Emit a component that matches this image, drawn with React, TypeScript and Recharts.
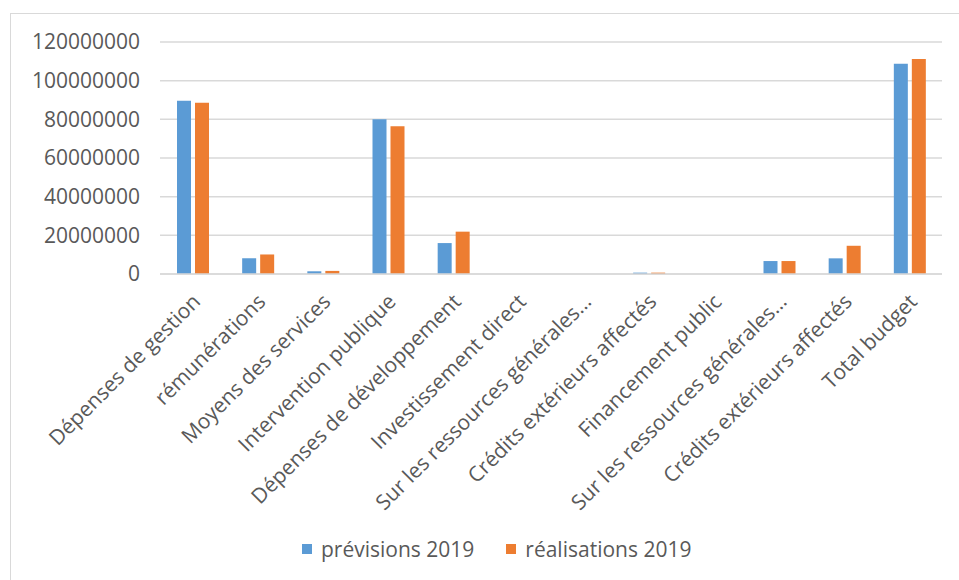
import React from 'react'
import { Bar, BarChart, CartesianGrid, Legend, XAxis, YAxis } from 'recharts'

const categories = [
  'Dépenses de gestion',
  'rémunérations',
  'Moyens des services',
  'Intervention publique',
  'Dépenses de développement',
  'Investissement direct',
  'Sur les ressources générales…',
  'Crédits extérieurs affectés',
  'Financement public',
  'Sur les ressources générales…',
  'Crédits extérieurs affectés',
  'Total budget',
]
const previsions = [
  89600000, 8100000, 1400000, 80000000, 16000000, 0, 0, 700000, 0, 6700000, 8100000, 108800000,
]
const realisations = [
  88600000, 10100000, 1600000, 76400000, 21900000, 0, 0, 700000, 0, 6700000, 14600000, 111200000,
]
const yTicks = [0, 20000000, 40000000, 60000000, 80000000, 100000000, 120000000]

const series = [
  { key: 'prev', name: 'prévisions 2019', color: '#5B9BD5' },
  { key: 'real', name: 'réalisations 2019', color: '#ED7D31' },
]

const data = categories.map((c, i) => ({ idx: i, label: c, prev: previsions[i], real: realisations[i] }))

const FONT = '"Open Sans", "Noto Sans", sans-serif'
const TEXT = '#595959'

function CategoryTick({ x, y, payload }: any) {
  const label = categories[payload.value]
  const tx = x + 9
  const ty = y + 21
  return (
    <text
      x={tx}
      y={ty}
      transform={`rotate(-45, ${tx}, ${ty})`}
      textAnchor="end"
      fill={TEXT}
      fontSize={21}
      fontFamily={FONT}
    >
      {label}
    </text>
  )
}

function LegendBox() {
  return (
    <div style={{ display: 'flex', gap: 32, fontFamily: FONT, fontSize: 21, color: TEXT }}>
      {series.map((s) => (
        <div key={s.key} style={{ display: 'flex', alignItems: 'center', gap: 9 }}>
          <span style={{ display: 'inline-block', width: 10, height: 10, background: s.color }} />
          {s.name}
        </div>
      ))}
    </div>
  )
}

export default function App() {
  return (
    <div style={{ position: 'absolute', left: 0, top: 0, width: 959, height: 580, background: '#fff', overflow: 'hidden' }}>
      <div
        style={{
          position: 'absolute',
          left: 10,
          top: 13,
          width: 1000,
          height: 600,
          border: '1px solid #D9D9D9',
        }}
      />
      <BarChart
        width={959}
        height={580}
        data={data}
        margin={{ top: 42, right: 17, bottom: 0, left: 0 }}
        barSize={14}
        barGap={4}
        style={{ position: 'absolute', left: 0, top: 0 }}
      >
        <CartesianGrid vertical={false} stroke="#D9D9D9" strokeWidth={1.5} />
        <XAxis
          dataKey="idx"
          type="category"
          height={306}
          axisLine={{ stroke: '#D9D9D9', strokeWidth: 1.5 }}
          tickLine={false}
          interval={0}
          tick={<CategoryTick />}
        />
        <YAxis
          width={160}
          domain={[0, 120000000]}
          ticks={yTicks}
          axisLine={false}
          tickLine={false}
          tickSize={0}
          tickMargin={20}
          tick={{ fill: TEXT, fontSize: 21, fontFamily: FONT }}
        />
        <Legend
          layout="horizontal"
          verticalAlign="middle"
          align="center"
          content={<LegendBox />}
          wrapperStyle={{ position: 'absolute', left: 302, top: 535, width: 'auto' }}
        />
        {series.map((s) => (
          <Bar
            key={s.key}
            dataKey={s.key}
            name={s.name}
            fill={s.color}
            isAnimationActive={false}
          />
        ))}
      </BarChart>
    </div>
  )
}
